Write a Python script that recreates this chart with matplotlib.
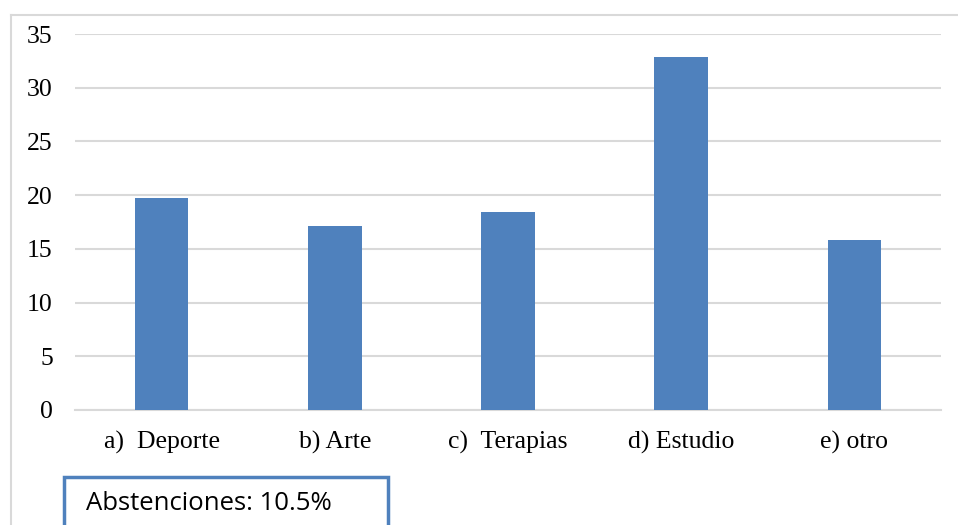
import matplotlib
matplotlib.use('Agg')
import matplotlib.pyplot as plt
from matplotlib.patches import Rectangle
from matplotlib.lines import Line2D

# datos
categorias = ['a)  Deporte', 'b) Arte', 'c)  Terapias', 'd) Estudio', 'e) otro']
valores = [19.7, 17.1, 18.4, 32.9, 15.8]
yticks = [0, 5, 10, 15, 20, 25, 30, 35]
nota = 'Abstenciones: 10.5%'

fig = plt.figure(figsize=(9.58, 5.25), dpi=100)
W, H = 958, 525

# marco exterior gris
fig.add_artist(Line2D([11 / W, 11 / W], [0, 1 - 15 / H], color='#d9d9d9', lw=1.5, transform=fig.transFigure))
fig.add_artist(Line2D([11 / W, 1], [1 - 15 / H, 1 - 15 / H], color='#d9d9d9', lw=1.5, transform=fig.transFigure))

ax = fig.add_axes([75 / W, 1 - 410 / H, 866 / W, 376 / H])
x = range(len(categorias))
ax.bar(x, valores, width=0.31, color='#4F81BD', zorder=3)
ax.set_xlim(-0.5, len(categorias) - 0.5)
ax.set_ylim(0, 35)
ax.set_yticks(yticks)
ax.set_xticks(list(x))
ax.set_xticklabels(categorias)
ax.grid(axis='y', color='#d9d9d9', lw=1.5, zorder=0)
for s in ['top', 'right', 'left']:
    ax.spines[s].set_visible(False)
ax.spines['bottom'].set_color('#d9d9d9')
ax.spines['bottom'].set_linewidth(1.5)
ax.tick_params(length=0)
ax.tick_params(axis='y', pad=16)
ax.tick_params(axis='x', pad=15)
for lab in ax.get_xticklabels() + ax.get_yticklabels():
    lab.set_fontfamily('Liberation Serif')
    lab.set_fontsize(18.5)

# cuadro de abstenciones
fig.add_artist(Rectangle((64 / W, -10 / H), 324 / W, (48 + 10) / H, transform=fig.transFigure,
                         fill=False, edgecolor='#4F81BD', lw=2.5))
fig.text(86 / W, 1 - 504 / H, nota, fontsize=18.5, family='Open Sans', va='center', ha='left')

plt.savefig('out.png', dpi=100)
